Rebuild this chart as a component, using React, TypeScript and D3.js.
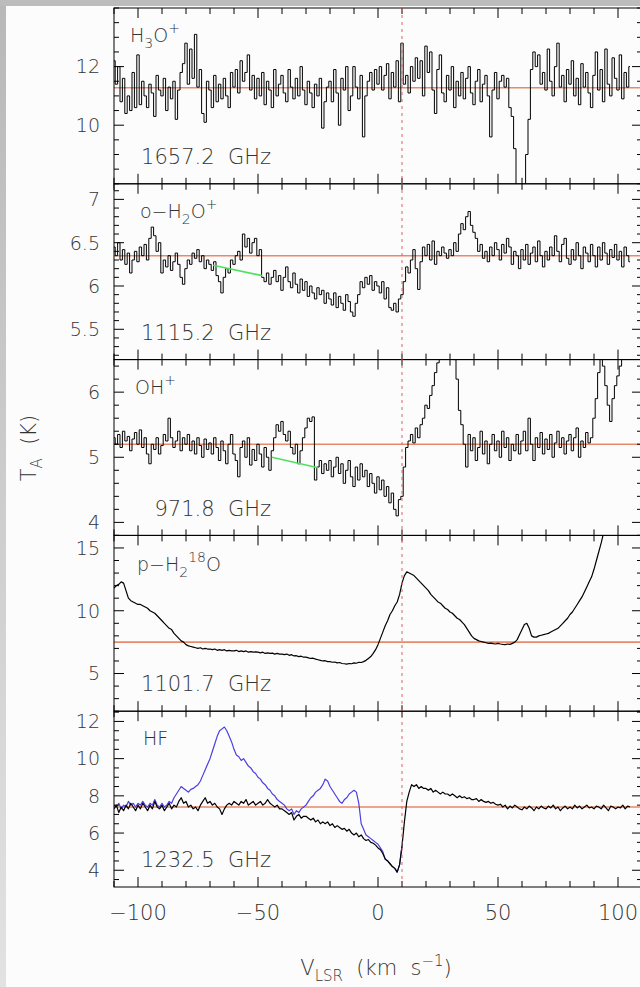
import React, { useRef, useEffect } from "react";
import * as d3 from "d3";

// channel grid of every spectrum below (km/s)
const V0 = -110;
const DV = 1;

// H3O+ 1657.2 GHz, T_A (K), v = -110 .. 105
const h3oPlus = [
  12.2, 11.4, 12.0, 10.8, 11.6, 10.4, 11.0, 10.5, 11.8, 10.6,
  12.4, 10.7, 11.5, 11.0, 10.6, 11.4, 11.1, 10.3, 11.7, 11.2,
  11.0, 11.6, 10.5, 11.3, 10.9, 11.5, 10.2, 11.2, 11.8, 12.1,
  12.8, 11.4, 12.6, 11.6, 13.1, 11.3, 11.9, 10.4, 10.1, 11.5,
  11.2, 10.6, 11.7, 10.8, 11.4, 10.9, 11.6, 11.0, 10.6, 11.8,
  11.3, 11.9, 11.1, 12.2, 11.5, 11.8, 12.4, 11.2, 11.7, 10.9,
  11.6, 11.0, 11.8, 10.7, 11.5, 11.2, 10.6, 11.9, 11.0, 11.4,
  11.7, 11.1, 10.8, 11.9, 11.3, 10.9, 11.6, 11.0, 12.0, 11.2,
  10.7, 11.5, 11.1, 10.6, 11.4, 11.0, 11.6, 9.9, 10.8, 11.3,
  11.5, 10.8, 11.9, 11.1, 10.0, 11.6, 11.2, 12.0, 10.5, 11.0,
  12.0, 11.3, 10.9, 11.7, 9.6, 11.0, 11.5, 11.8, 11.2, 11.9,
  11.4, 12.0, 11.2, 11.7, 12.1, 10.9, 11.8, 11.3, 12.2, 10.8,
  12.8, 11.4, 11.7, 11.1, 12.0, 11.5, 12.3, 11.6, 12.2, 11.0,
  12.7, 11.8, 12.5, 11.2, 10.4, 11.9, 12.4, 11.1, 10.8, 11.7,
  11.2, 12.0, 10.6, 11.5, 11.0, 11.8, 10.9, 11.6, 12.0, 11.1,
  10.7, 11.5, 11.9, 10.8, 11.4, 11.7, 11.0, 9.6, 11.2, 11.8,
  10.9, 11.5, 11.7, 11.3, 11.6, 10.6, 10.3, 9.2, 7.6, 7.6,
  7.5, 7.6, 9.0, 10.2, 11.9, 12.5, 12.0, 12.4, 11.4, 11.8,
  11.2, 12.6, 11.5, 11.0, 12.0, 12.8, 11.3, 11.7, 10.8, 11.9,
  11.4, 12.2, 11.0, 11.6, 10.7, 12.1, 11.3, 11.8, 11.1, 10.6,
  11.7, 12.5, 11.2, 11.9, 10.8, 12.6, 11.4, 11.0, 12.3, 11.6,
  11.2, 12.4, 10.9, 11.8, 11.3, 12.0,
];

// o-H2O+ 1115.2 GHz
const oH2oPlus = [
  6.45, 6.35, 6.5, 6.3, 6.42, 6.25, 6.38, 6.15, 6.3, 6.4,
  6.28, 6.45, 6.35, 6.48, 6.3, 6.55, 6.68, 6.58, 6.4, 6.5,
  6.15, 6.3, 6.22, 6.35, 6.18, 6.28, 6.38, 6.25, 6.1, 6.02,
  6.2, 6.3, 6.25, 6.38, 6.32, 6.42, 6.28, 6.35, 6.2, 6.3,
  6.25, 6.18, 6.28, 6.12, 6.05, 5.92, 6.1, 6.2, 6.15, 6.3,
  6.25, 6.35, 6.4, 6.3, 6.6, 6.45, 6.55, 6.38, 6.5, 6.55,
  6.35, 6.42, 6.1, 6.05, 6.15, 6.02, 6.1, 6.18, 6.05, 6.12,
  5.95, 6.1, 6.22, 6.05, 5.98, 6.15, 6.02, 5.92, 6.08, 5.95,
  6.05, 5.88, 6.0, 5.92, 5.85, 5.98, 5.9, 5.95, 5.8, 5.92,
  5.85, 5.78, 5.92, 5.75, 5.88, 5.8, 5.72, 5.9, 5.82, 5.7,
  5.65, 5.8, 5.9, 6.05, 5.98, 6.1, 6.02, 6.12, 5.95, 6.05,
  6.0, 5.92, 6.05, 5.85, 5.98, 5.75, 5.72, 5.8, 5.7, 5.85,
  5.9, 6.05, 6.22, 6.15, 6.3, 6.42, 6.2, 5.96, 6.28, 6.45,
  6.35, 6.48, 6.3, 6.52, 6.25, 6.4, 6.35, 6.45, 6.38, 6.32,
  6.42, 6.35, 6.5, 6.4, 6.6, 6.72, 6.65, 6.8, 6.86, 6.7,
  6.62, 6.55, 6.4, 6.48, 6.32, 6.4, 6.28, 6.45, 6.35, 6.5,
  6.42, 6.3, 6.48, 6.38, 6.55, 6.45, 6.25, 6.4, 6.35, 6.2,
  6.42, 6.3, 6.48, 6.25, 6.38, 6.45, 6.28, 6.52, 6.35, 6.22,
  6.4, 6.3, 6.45, 6.35, 6.58, 6.4, 6.28, 6.48, 6.55, 6.32,
  6.25, 6.42, 6.3, 6.5, 6.35, 6.2, 6.45, 6.38, 6.28, 6.48,
  6.35, 6.22, 6.45, 6.3, 6.5, 6.38, 6.25, 6.42, 6.33, 6.48,
  6.3, 6.4, 6.22, 6.45, 6.35, 6.28,
];

// OH+ 971.8 GHz
const ohPlus = [
  5.3, 5.2, 5.35, 5.15, 5.4, 5.25, 5.32, 5.1, 5.28, 5.38,
  5.2, 5.42, 5.15, 5.3, 5.05, 4.9, 5.2, 5.12, 5.3, 5.05,
  5.18, 5.35, 5.25, 5.6, 5.3, 5.15, 5.25, 5.4, 5.1, 5.3,
  5.2, 5.35, 5.1, 5.25, 5.05, 5.3, 5.18, 5.0, 5.28, 5.12,
  5.22, 5.05, 5.3, 5.15, 4.95, 5.25, 5.1, 4.9, 5.2, 5.35,
  5.05, 4.95, 4.7, 5.15, 5.25, 5.0, 5.3, 4.88, 5.12, 4.95,
  5.2, 5.05, 4.85, 5.15, 5.0, 4.8, 5.1, 5.3, 5.5, 5.4,
  5.55, 5.35, 5.25, 5.4, 5.15, 5.05, 5.2, 4.9, 5.1, 5.3,
  5.45, 5.6, 5.55, 5.62, 4.65, 4.85, 4.95, 4.75, 4.9, 4.8,
  4.95, 4.7, 4.85, 5.0, 4.75, 4.9, 4.6, 4.8, 4.95, 4.7,
  4.55, 4.85, 4.65, 4.9, 4.7, 4.8, 4.55, 4.75, 4.6, 4.45,
  4.7, 4.5, 4.65, 4.4, 4.55, 4.3, 4.45, 4.2, 4.1, 4.35,
  4.4, 4.85, 5.15, 5.25, 5.35, 5.22, 5.45, 5.3, 5.5, 5.6,
  5.8, 5.75, 5.95, 6.1, 6.3, 6.45, 6.6, 6.6, 6.6, 6.6,
  6.6, 6.6, 6.5, 6.2, 5.72, 5.5, 5.2, 4.85, 5.35, 5.1,
  5.3, 4.95, 5.15, 5.4, 5.05, 5.25, 4.9, 5.2, 5.35, 5.1,
  5.25, 5.0, 5.4, 5.15, 5.3, 4.95, 5.2, 5.1, 5.35, 5.05,
  5.25, 5.4, 5.1, 5.6, 5.2, 4.95, 5.3, 5.15, 5.38, 5.05,
  5.28, 5.12, 5.35, 5.0, 5.22, 5.4, 5.15, 5.3, 5.05, 5.25,
  5.35, 5.1, 5.3, 5.45, 5.0, 5.25, 5.15, 5.38, 5.22, 5.3,
  5.6, 5.9, 6.3, 6.6, 6.4, 6.1, 5.8, 5.55, 5.9, 6.1,
  6.25, 6.4, 6.6, 6.6, 6.6, 6.6,
];

// p-H2 18O 1101.7 GHz, v = -110 .. 95
const pH218o = [
  11.8, 12.0, 12.1, 12.3, 12.2, 11.6, 11.0, 10.8, 10.7, 10.6,
  10.5, 10.5, 10.4, 10.3, 10.2, 10.0, 9.9, 9.8, 9.6, 9.4,
  9.2, 9.0, 8.8, 8.6, 8.5, 8.2, 8.0, 7.8, 7.6, 7.5,
  7.3, 7.2, 7.15, 7.1, 7.05, 7.0, 7.05, 6.95, 7.0, 6.95,
  6.95, 6.9, 6.95, 6.85, 6.9, 6.85, 6.9, 6.8, 6.85, 6.8,
  6.8, 6.85, 6.75, 6.8, 6.75, 6.8, 6.7, 6.75, 6.7, 6.72,
  6.7, 6.65, 6.7, 6.6, 6.65, 6.6, 6.62, 6.55, 6.6, 6.55,
  6.55, 6.5, 6.55, 6.45, 6.5, 6.4, 6.42, 6.35, 6.38, 6.3,
  6.3, 6.25, 6.2, 6.22, 6.15, 6.1, 6.05, 6.0, 6.02, 5.95,
  5.95, 5.9, 5.92, 5.85, 5.88, 5.8, 5.78, 5.75, 5.8, 5.78,
  5.85, 5.82, 5.9, 5.88, 5.95, 6.05, 6.2, 6.35, 6.6, 6.9,
  7.3, 7.8, 8.3, 8.8, 9.2, 9.7, 10.0, 10.4, 10.7, 11.3,
  12.2, 12.8, 13.1, 13.0, 12.9, 12.8, 12.6, 12.4, 12.2, 12.0,
  11.8, 11.6, 11.3, 11.1, 10.9, 10.7, 10.6, 10.4, 10.2, 10.1,
  9.9, 9.8, 9.6, 9.4, 9.3, 9.1, 8.9, 8.6, 8.3, 8.0,
  7.8, 7.7, 7.6, 7.55, 7.5, 7.45, 7.4, 7.42, 7.38, 7.35,
  7.4, 7.35, 7.32, 7.3, 7.35, 7.32, 7.4, 7.5, 7.7, 8.1,
  8.5, 8.9, 9.0, 8.6, 8.0, 7.9, 7.9, 8.0, 8.05, 8.1,
  8.15, 8.2, 8.3, 8.4, 8.5, 8.6, 8.8, 9.0, 9.2, 9.4,
  9.7, 9.9, 10.2, 10.5, 10.8, 11.1, 11.5, 11.9, 12.3, 12.7,
  13.3, 14.0, 14.7, 15.4, 16.2, 16.8,
];

// HF 1232.5 GHz, black trace, v = -110 .. 105
const hfBlack = [
  7.3, 7.5, 7.1, 7.4, 7.2, 7.5, 7.3, 7.6, 7.4, 7.2,
  7.5, 7.3, 7.6, 7.4, 7.2, 7.5, 7.3, 7.7, 7.4, 7.3,
  7.5, 7.2, 7.4, 7.6, 7.3, 7.5, 7.4, 7.7, 7.9, 7.6,
  7.7, 7.4, 7.5, 7.3, 7.4, 7.2, 7.5, 7.7, 7.9, 7.6,
  7.7, 7.5, 7.6, 7.4, 7.3, 7.0, 7.3, 7.5, 7.6, 7.5,
  7.7, 7.6, 7.5, 7.7, 7.6, 7.8, 7.5, 7.6, 7.7, 7.5,
  7.6, 7.7, 7.5, 7.6, 7.8, 7.6, 7.5, 7.4, 7.5, 7.3,
  7.3, 7.2, 7.1, 7.0, 7.1, 6.7, 6.9, 7.0, 6.8, 6.9,
  6.9, 6.8, 6.7, 6.8, 6.6, 6.7, 6.5, 6.6, 6.5, 6.6,
  6.4, 6.5, 6.3, 6.4, 6.3, 6.2, 6.25, 6.1, 6.2, 6.0,
  5.9, 6.0, 5.8, 5.9, 5.7, 5.6, 5.65, 5.5, 5.45, 5.35,
  5.2, 5.1, 4.9, 4.6, 4.5, 4.35, 4.2, 4.1, 3.9, 4.3,
  5.3, 6.6, 7.7, 8.2, 8.6, 8.5, 8.6, 8.4, 8.5, 8.4,
  8.4, 8.3, 8.4, 8.2, 8.3, 8.2, 8.1, 8.2, 8.1, 8.1,
  8.0, 8.1, 8.0, 7.9, 8.0, 7.9, 7.95, 7.85, 7.9, 7.8,
  7.8, 7.85, 7.7, 7.8, 7.7, 7.65, 7.7, 7.6, 7.65, 7.55,
  7.5, 7.55, 7.4, 7.5, 7.3, 7.45, 7.35, 7.5, 7.4, 7.3,
  7.25, 7.4, 7.3, 7.45, 7.35, 7.2, 7.4, 7.3, 7.45, 7.35,
  7.3, 7.45, 7.35, 7.5, 7.3, 7.4, 7.2, 7.35, 7.45, 7.3,
  7.4, 7.3, 7.5, 7.35, 7.45, 7.3, 7.4, 7.5, 7.35, 7.4,
  7.3, 7.45, 7.4, 7.3, 7.5, 7.35, 7.2, 7.45, 7.4, 7.3,
  7.4, 7.35, 7.5, 7.3, 7.45, 7.4,
];

// HF blue trace, v = -110 .. 10 (beyond that it lies under the black one)
const hfBlue = [
  7.5, 7.4, 7.6, 7.3, 7.5, 7.4, 7.7, 7.5, 7.6, 7.4,
  7.6, 7.5, 7.7, 7.5, 7.4, 7.6, 7.5, 7.8, 7.5, 7.4,
  7.6, 7.4, 7.5, 7.7, 7.6, 7.9, 8.1, 8.3, 8.5, 8.4,
  8.3, 8.2, 8.35, 8.4, 8.5, 8.6, 8.8, 9.1, 9.4, 9.7,
  10.0, 10.4, 10.8, 11.2, 11.5, 11.6, 11.7, 11.5, 11.2, 10.9,
  10.5, 10.2, 10.1, 9.9, 10.0, 9.8, 9.6, 9.5, 9.3, 9.2,
  9.0, 8.9, 8.7, 8.6, 8.4, 8.3, 8.1, 8.0, 7.8, 7.7,
  7.6, 7.5, 7.3, 7.2, 7.3, 7.0, 7.2, 7.1, 7.3, 7.4,
  7.5, 7.7, 7.9, 8.0, 8.2, 8.3, 8.4, 8.6, 8.9, 8.8,
  8.5, 8.3, 8.1, 7.9, 7.7, 7.6, 7.8, 7.9, 8.1, 8.2,
  8.3, 8.2, 7.6, 6.5, 6.2, 5.9, 5.8, 5.7, 5.6, 5.5,
  5.4, 5.2, 5.0, 4.6, 4.5, 4.35, 4.2, 4.1, 3.9, 4.3,
  5.3,
];

// fitted baselines (green segments) [v, T]
const oH2oFit = [[-68.75, 6.24], [-48.3, 6.12]];
const ohFit = [[-44.2, 5.0], [-25, 4.84]];

const baselines = [11.28, 6.35, 5.2, 7.5, 7.4];
const freqs = ["1657.2  GHz", "1115.2  GHz", "971.8  GHz", "1101.7  GHz", "1232.5  GHz"];
const yDomains = [[8, 14], [5.15, 7.18], [3.8, 6.5], [2, 16], [3.1, 12.55]];
const yLabels = [[10, 12], [5.5, 6, 6.5, 7], [4, 5, 6], [5, 10, 15], [4, 6, 8, 10, 12]];
const yMinorStep = [0.5, 0.1, 0.2, 1, 0.5];
const xLabels = [-100, -50, 0, 50, 100];
const vSource = 10;

const FONT = "'DejaVu Sans', sans-serif";

const App = () => {
  const ref = useRef(null);

  useEffect(() => {
    const svg = d3.select(ref.current);
    svg.selectAll("*").remove();
    const width = 640;
    const height = 987;
    const left = 114;
    const right = 642;
    const top = 8;
    const bottom = 887;
    const ph = (bottom - top) / 5;

    const defs = svg.append("defs");
    const grad = defs.append("linearGradient").attr("id", "edge").attr("x1", 0).attr("x2", 0).attr("y1", 0).attr("y2", 1);
    grad.append("stop").attr("offset", "0%").attr("stop-color", "#b8b8b8");
    grad.append("stop").attr("offset", "100%").attr("stop-color", "#e2e2e2");

    svg.append("rect").attr("width", width).attr("height", height).attr("fill", "#fcfcfc");
    svg.append("rect").attr("width", 6).attr("height", height).attr("fill", "url(#edge)");
    svg.append("rect").attr("width", width).attr("height", 6).attr("fill", "#bcbcbc");

    const x = d3.scaleLinear().domain([-110, 110]).range([left, right]);

    const spectra = [[h3oPlus], [oH2oPlus], [ohPlus], [pH218o], [hfBlue, hfBlack]];
    const colors = [["#000"], ["#000"], ["#000"], ["#000"], ["#4b3fe0", "#000"]];
    const fits = [null, oH2oFit, ohFit, null, null];

    const species = [
      { x: 130, parts: [["H", 0], ["3", 1], ["O", 0], ["+", 2]] },
      { x: 140, parts: [["o\u2212H", 0], ["2", 1], ["O", 0], ["+", 2]] },
      { x: 135, parts: [["OH", 0], ["+", 2]] },
      { x: 137, parts: [["p\u2212H", 0], ["2", 1], ["18", 2], ["O", 0]] },
      { x: 143, parts: [["HF", 0]] },
    ];

    spectra.forEach((traces, i) => {
      const y0 = top + i * ph;
      const y = d3.scaleLinear().domain(yDomains[i]).range([y0 + ph, y0]);
      const g = svg.append("g");

      defs.append("clipPath").attr("id", `clip${i}`)
        .append("rect").attr("x", left).attr("y", y0).attr("width", right - left).attr("height", ph);

      const plot = g.append("g").attr("clip-path", `url(#clip${i})`);

      // baseline
      plot.append("line")
        .attr("x1", left).attr("x2", right)
        .attr("y1", y(baselines[i])).attr("y2", y(baselines[i]))
        .attr("stroke", "#e8896a").attr("stroke-width", 1.6);

      const line = d3.line()
        .x((d, k) => x(V0 + k * DV))
        .y((d) => y(d))
        .curve(i < 3 ? d3.curveStep : d3.curveLinear);

      traces.forEach((t, k) => {
        plot.append("path")
          .attr("d", line(t))
          .attr("fill", "none")
          .attr("stroke", colors[i][k])
          .attr("stroke-width", i < 3 ? 1 : 1.2)
          .attr("stroke-linejoin", "round");
      });

      if (fits[i]) {
        plot.append("line")
          .attr("x1", x(fits[i][0][0])).attr("y1", y(fits[i][0][1]))
          .attr("x2", x(fits[i][1][0])).attr("y2", y(fits[i][1][1]))
          .attr("stroke", "#4fe060").attr("stroke-width", 1.6);
      }

      // frame
      g.append("rect")
        .attr("x", left).attr("y", y0).attr("width", right - left).attr("height", ph)
        .attr("fill", "none").attr("stroke", "#000").attr("stroke-width", 1);

      // x ticks, top and bottom
      d3.range(-110, 111, 10).forEach((v) => {
        const len = v % 50 === 0 ? 10 : 6;
        g.append("line").attr("x1", x(v)).attr("x2", x(v)).attr("y1", y0).attr("y2", y0 + len).attr("stroke", "#000");
        g.append("line").attr("x1", x(v)).attr("x2", x(v)).attr("y1", y0 + ph).attr("y2", y0 + ph - len).attr("stroke", "#000");
      });

      // y ticks, left and right
      const [lo, hi] = yDomains[i];
      const step = yMinorStep[i];
      d3.range(Math.ceil(lo / step) * step, hi + 1e-6, step).forEach((t) => {
        const major = yLabels[i].some((l) => Math.abs(l - t) < 1e-6);
        const len = major ? 10 : 5;
        g.append("line").attr("x1", left).attr("x2", left + len).attr("y1", y(t)).attr("y2", y(t)).attr("stroke", "#000");
        g.append("line").attr("x1", right).attr("x2", right - len).attr("y1", y(t)).attr("y2", y(t)).attr("stroke", "#000");
      });

      yLabels[i].forEach((t) => {
        g.append("text")
          .attr("x", 100).attr("y", y(t)).attr("dy", "0.36em")
          .attr("text-anchor", "end")
          .attr("font-family", FONT).attr("font-size", 19).attr("font-weight", 200)
          .attr("fill", "#333")
          .text(String(t));
      });

      // species name
      const sp = g.append("text")
        .attr("x", species[i].x).attr("y", y0 + (i === 3 ? 36 : 34))
        .attr("font-family", FONT).attr("font-size", 19).attr("font-weight", 200)
        .attr("fill", "#333");
      let shift = 0;
      species[i].parts.forEach(([s, kind]) => {
        const target = kind === 1 ? 6 : kind === 2 ? -9 : 0;
        sp.append("tspan")
          .attr("dy", target - shift)
          .attr("font-size", kind === 0 ? 19 : 14)
          .text(s);
        shift = target;
      });

      // frequency
      g.append("text")
        .attr("x", 271).attr("y", y0 + 156)
        .attr("text-anchor", "end")
        .attr("font-family", FONT).attr("font-size", 21).attr("font-weight", 200)
        .attr("fill", "#333")
        .style("white-space", "pre")
        .text(freqs[i]);
    });

    // source velocity
    svg.append("line")
      .attr("x1", x(vSource)).attr("x2", x(vSource))
      .attr("y1", top).attr("y2", bottom)
      .attr("stroke", "#e06060").attr("stroke-width", 1)
      .attr("stroke-dasharray", "3,4");

    xLabels.forEach((v) => {
      svg.append("text")
        .attr("x", x(v)).attr("y", 920)
        .attr("text-anchor", "middle")
        .attr("font-family", FONT).attr("font-size", 21).attr("font-weight", 200)
        .attr("fill", "#333")
        .text(v < 0 ? `\u2212${Math.abs(v)}` : String(v));
    });

    const xt = svg.append("text")
      .attr("x", 376).attr("y", 975)
      .attr("text-anchor", "middle")
      .attr("font-family", FONT).attr("font-size", 21).attr("font-weight", 200)
      .attr("fill", "#333")
      .style("white-space", "pre");
    xt.append("tspan").text("V");
    xt.append("tspan").attr("dy", 6).attr("font-size", 15).text("LSR");
    xt.append("tspan").attr("dy", -6).text("  (km  s");
    xt.append("tspan").attr("dy", -9).attr("font-size", 15).text("\u22121");
    xt.append("tspan").attr("dy", 9).text(")");

    const yt = svg.append("text")
      .attr("transform", "translate(36,448) rotate(-90)")
      .attr("text-anchor", "middle")
      .attr("font-family", FONT).attr("font-size", 21).attr("font-weight", 200)
      .attr("fill", "#333")
      .style("white-space", "pre");
    yt.append("tspan").text("T");
    yt.append("tspan").attr("dy", 6).attr("font-size", 15).text("A");
    yt.append("tspan").attr("dy", -6).text("  (K)");
  });

  return (
    <svg
      ref={ref}
      width={640}
      height={987}
      style={{ position: "absolute", left: 0, top: 0, display: "block" }}
    ></svg>
  );
};

export default App;
